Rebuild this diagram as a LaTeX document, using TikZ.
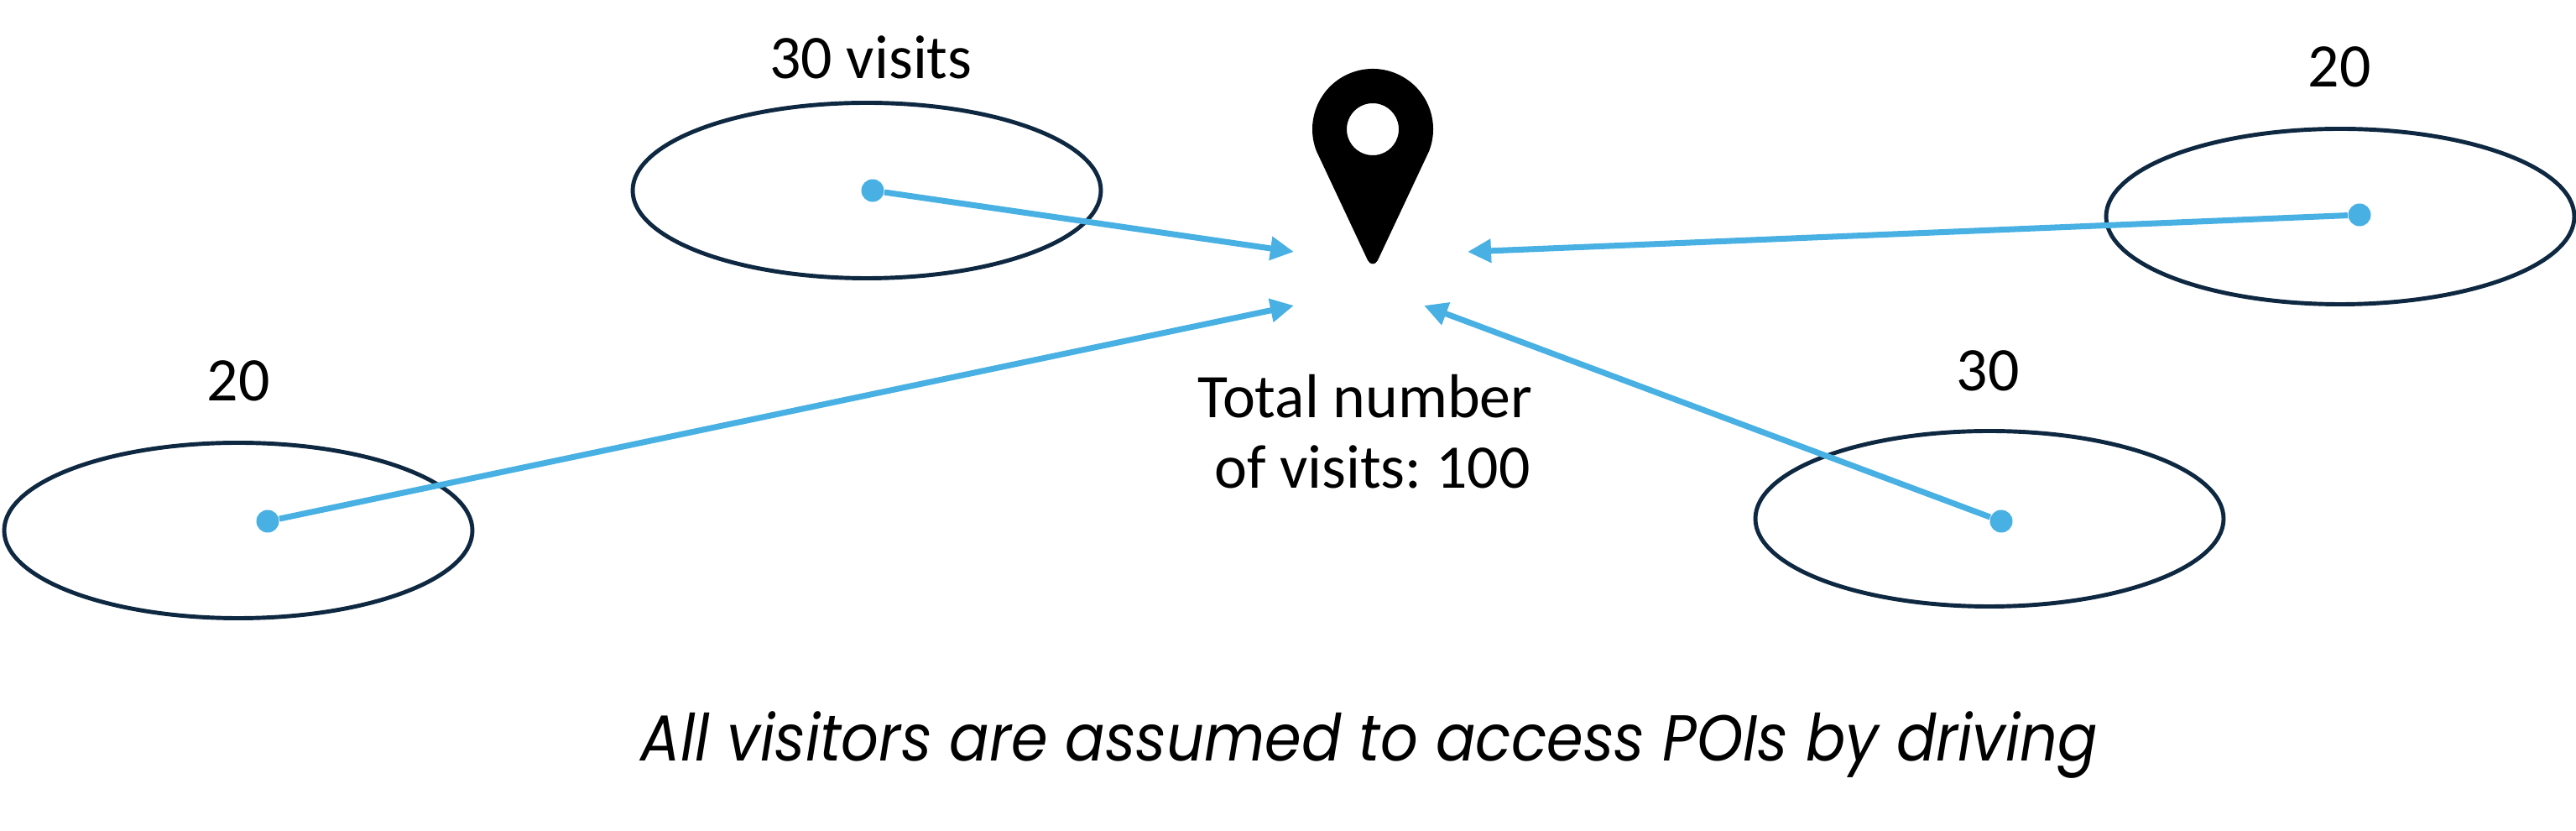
\documentclass[tikz,border=0pt]{standalone}
\usepackage{fontspec}
\setmainfont{Carlito}
\newfontfamily\notefont{Poppins}
\usetikzlibrary{arrows.meta,shapes.geometric}
\definecolor{tripblue}{HTML}{48B0E2}
\definecolor{zonedark}{HTML}{0E2841}
\tikzset{
	zone/.style={draw=zonedark,ellipse,line width=1.4pt,minimum width=5.58cm,minimum height=2.09cm,inner sep=0pt},
	origin/.style={circle,fill=tripblue,minimum size=0.27cm,inner sep=0pt},
	count/.style={font=\fontsize{21}{24}\selectfont,text=black}
}
\begin{document}
\frenchspacing
\begin{tikzpicture}[
	>={Triangle[length=2.8mm,width=2.7mm]},
	line join=round
	]
	\useasboundingbox (0,0) rectangle (30.7,9.9);
	% catchment zones
	\node[zone] (zoneA) at (10.33,7.63) {};
	\node[zone] (zoneB) at (27.89,7.32) {};
	\node[zone] (zoneC) at (23.71,3.72) {};
	\node[zone] (zoneD) at (2.84,3.58) {};
	\node[origin] (originA) at (10.40,7.63) {};
	\node[origin] (originB) at (28.12,7.34) {};
	\node[origin] (originC) at (23.85,3.69) {};
	\node[origin] (originD) at (3.19,3.69) {};
	\coordinate (tipA) at (15.42,6.90);
	\coordinate (tipB) at (17.49,6.90);
	\coordinate (tipC) at (16.97,6.26);
	\coordinate (tipD) at (15.42,6.26);
	\begin{scope}[->,tripblue,line width=2pt]
		\draw (originA) -- (tipA);
		\draw (originB) -- (tipB);
		\draw (originC) -- (tipC);
		\draw (originD) -- (tipD);
	\end{scope}
	% pin
	\fill[even odd rule] (15.688,8.102) arc (201:-21:0.72) -- (16.42,6.80) .. controls (16.39,6.74) and (16.33,6.74) .. (16.30,6.80) -- cycle
		(16.36,8.36) circle (0.31);
	% labels
	\node[count] (labelA) at (10.38,9.22) {30 visits};
	\node[count] (labelB) at (27.88,9.10) {20};
	\node[count] (labelC) at (23.69,5.48) {30};
	\node[count] (labelD) at (2.84,5.36) {20};
	\node[count,align=center] (total) at (16.27,4.76) {Total number\\ \ of visits: 100};
	\node[font=\notefont\itshape\fontsize{22}{26}\selectfont,xscale=0.908,transform shape] (note) at (16.32,1.02) {All visitors are assumed to access POIs by driving};
\end{tikzpicture}
\end{document}
